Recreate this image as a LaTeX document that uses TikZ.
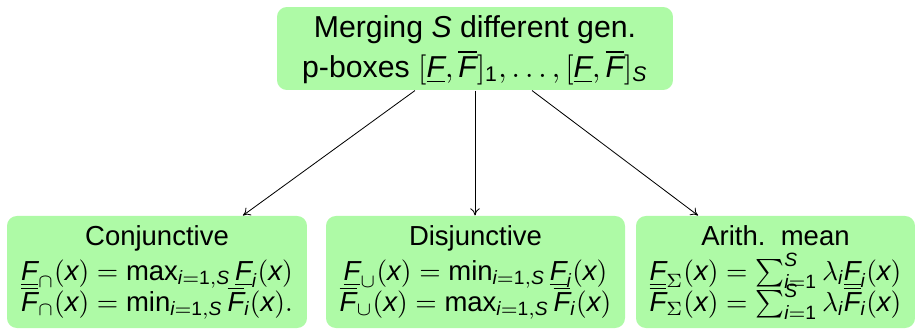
\documentclass[tikz,border=0pt]{standalone}
\usepackage{amsmath}
\usepackage{fontspec}
\setmainfont{Liberation Sans}
\usetikzlibrary{arrows.meta}

% sans italic letters inside math
\newcommand{\Fv}{\text{\itshape F}}
\newcommand{\xv}{\text{\itshape x}}
\newcommand{\iv}{\text{\itshape i}}
\newcommand{\Sv}{\text{\itshape S}}
\newcommand{\onev}{\text{1}}
\newcommand{\lF}{\underline{\Fv}}
\newcommand{\uF}{\overline{\Fv}}
\newcommand{\opname}[1]{\mathop{\text{#1}}\nolimits}

\definecolor{boxgreen}{RGB}{174,250,166}

% one drawing unit is 0.36364pt, so 10pt type is 27.5 units tall
\tikzset{
  greenbox/.style={fill=boxgreen, draw=none, rounded corners=3.6pt,
    inner sep=0pt, rectangle},
  txt/.style={anchor=base, inner sep=0pt, font=\normalsize},
  headtxt/.style={txt, font=\fontsize{11}{13}\selectfont},
  arr/.style={-{To[length=2.6pt,width=3.4pt]}, line width=0.3pt, black}
}

\begin{document}
\begin{tikzpicture}[x=0.36364pt,y=-0.36364pt]
  \useasboundingbox (0,0) rectangle (916,332);

  % header box
  \node[greenbox, minimum width=144pt, minimum height=30.18pt] (top) at (475,48.5) {};
  \node[headtxt] (topa) at (475,38) {Merging \textit{S} different gen.};
  \node[headtxt] (topb) at (475,77) {p-boxes $[\lF,\uF]_{\onev},\ldots,[\lF,\uF]_{\Sv}$};

  % the three merging rules
  \node[greenbox, minimum width=109.09pt, minimum height=40.73pt] (c1) at (157,272) {};
  \node[greenbox, minimum width=108.73pt, minimum height=40.73pt] (c2) at (475.5,272) {};
  \node[greenbox, minimum width=101.45pt, minimum height=40.73pt] (c3) at (775.5,272) {};

  \node[txt] (c1a) at (157,245) {Conjunctive};
  \node[txt] (c1b) at (157,280.5) {$\lF_{\cap}(\xv) = \opname{max}_{\iv=\onev,\Sv}\lF_{\iv}(\xv)$};
  \node[txt] (c1c) at (157,311) {$\uF_{\cap}(\xv) = \opname{min}_{\iv=\onev,\Sv}\uF_{\iv}(\xv).$};

  \node[txt] (c2a) at (475.5,245) {Disjunctive};
  \node[txt] (c2b) at (475.5,280.5) {$\lF_{\cup}(\xv) = \opname{min}_{\iv=\onev,\Sv}\lF_{\iv}(\xv)$};
  \node[txt] (c2c) at (475.5,311) {$\uF_{\cup}(\xv) = \opname{max}_{\iv=\onev,\Sv}\uF_{\iv}(\xv)$};

  \node[txt] (c3a) at (775.5,245) {Arith.\ \ mean};
  \node[txt] (c3b) at (775.5,280.5) {$\lF_{\Sigma}(\xv) = \sum_{\iv=\onev}^{\Sv}\lambda_{\iv}\lF_{\iv}(\xv)$};
  \node[txt] (c3c) at (775.5,311) {$\uF_{\Sigma}(\xv) = \sum_{\iv=\onev}^{\Sv}\lambda_{\iv}\uF_{\iv}(\xv)$};

  % connectors
  \draw[arr] ([xshift=-21.82pt]top.south) -- ([xshift=31.27pt]c1.north);
  \draw[arr] (top.south) -- (top.south |- c2.north);
  \draw[arr] ([xshift=20.73pt]top.south) -- ([xshift=-28.18pt]c3.north);
\end{tikzpicture}
\end{document}
